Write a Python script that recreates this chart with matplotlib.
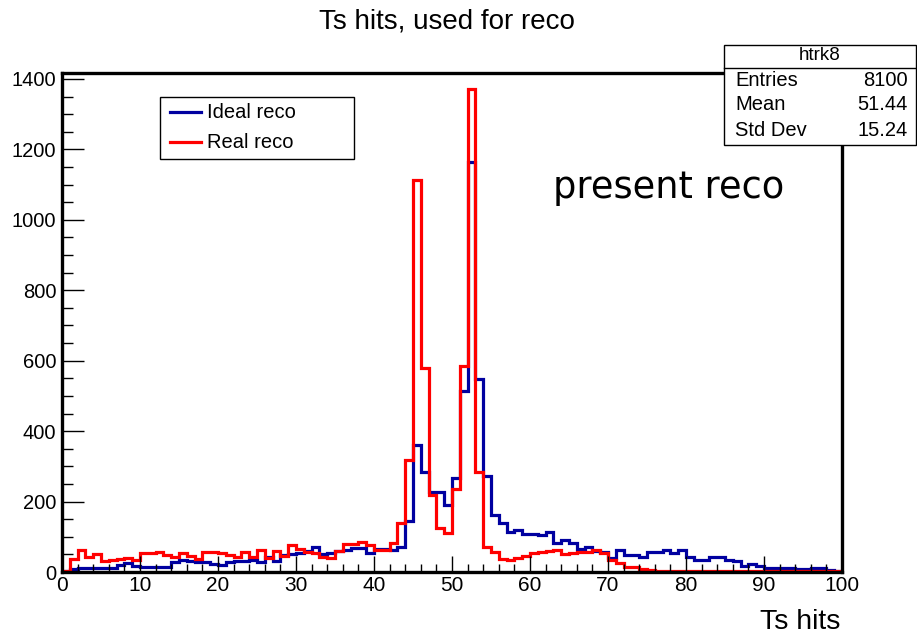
import numpy as np
import matplotlib
matplotlib.use("Agg")
import matplotlib.pyplot as plt
from matplotlib.patches import Rectangle
from matplotlib.lines import Line2D

# ---------------- data ----------------
bin_edges = list(range(0, 101))

ideal_reco = [
    2, 8, 10, 10, 10, 10, 11, 20, 25, 16,
    15, 15, 15, 15, 28, 33, 30, 29, 29, 24,
    20, 28, 32, 30, 33, 27, 42, 32, 48, 50,
    55, 60, 70, 52, 55, 61, 63, 67, 67, 55,
    65, 65, 62, 72, 146, 362, 285, 228, 228, 190,
    268, 515, 1165, 548, 272, 162, 138, 115, 119, 108,
    107, 105, 113, 82, 92, 81, 66, 70, 60, 58,
    40, 62, 48, 47, 42, 58, 56, 62, 54, 62,
    44, 34, 34, 44, 44, 34, 30, 18, 24, 16,
    10, 10, 10, 10, 8, 8, 10, 10, 5, 3,
]

real_reco = [
    4, 36, 62, 44, 51, 31, 34, 36, 39, 34,
    53, 53, 58, 48, 44, 54, 46, 36, 58, 58,
    53, 48, 44, 58, 44, 62, 40, 60, 45, 77,
    66, 58, 55, 44, 39, 60, 79, 79, 86, 77,
    62, 62, 81, 138, 318, 1114, 580, 220, 125, 110,
    235, 585, 1372, 285, 72, 58, 38, 34, 41, 45,
    53, 56, 61, 62, 50, 54, 56, 57, 62, 54,
    35, 25, 14, 13, 8, 5, 4, 4, 3, 3,
    2, 2, 2, 2, 2, 2, 2, 2, 2, 2,
    2, 2, 2, 2, 2, 2, 2, 2, 2, 2,
]

x_ticks = list(range(0, 101, 10))
y_ticks = list(range(0, 1401, 200))

series_labels = ["Ideal reco", "Real reco"]
series_colors = ["#0000a0", "#ff0000"]

stats_title = "htrk8"
stats_rows = [("Entries", "8100"), ("Mean", "51.44"), ("Std Dev", "15.24")]

title_text = "Ts hits, used for reco"
xlabel_text = "Ts hits"
note_text = "present reco"

# ---------------- figure ----------------
W, H = 917, 639
plt.rcParams['font.family'] = ['Liberation Sans', 'DejaVu Sans']
fig = plt.figure(figsize=(W / 100, H / 100), dpi=100)
fig.patch.set_facecolor("white")


def fx(px):
    return px / W


def fy(py):
    return 1 - py / H


ax_left, ax_right, ax_top, ax_bot = 62, 842, 73, 572
ax = fig.add_axes([fx(ax_left), fy(ax_bot), (ax_right - ax_left) / W, (ax_bot - ax_top) / H])

lw = 2.3
ax.stairs(ideal_reco, bin_edges, color=series_colors[0], linewidth=lw, baseline=None)
ax.stairs(real_reco, bin_edges, color=series_colors[1], linewidth=lw, baseline=None)

ax.set_xlim(0, 100)
ax.set_ylim(0, 1417)

ax.set_xticks(x_ticks)
ax.set_xticks(np.arange(0, 101, 2), minor=True)
ax.set_yticks(y_ticks)
ax.set_yticks(np.arange(0, 1417, 50), minor=True)

ax.tick_params(axis='x', which='major', direction='in', length=11.5, width=1.0, labelsize=15, pad=3)
ax.tick_params(axis='x', which='minor', direction='in', length=5.8, width=1.0)
ax.tick_params(axis='y', which='major', direction='in', length=16, width=1.0, labelsize=14.5, pad=4)
ax.tick_params(axis='y', which='minor', direction='in', length=8, width=1.0)

for s in ax.spines.values():
    s.set_linewidth(2.4)
    s.set_color("black")

# title & axis label
fig.text(fx(446.5), fy(21), title_text, ha='center', va='center', fontsize=20)
fig.text(fx(840), fy(622), xlabel_text, ha='right', va='center', fontsize=20.5)

# note
fig.text(fx(553), fy(187), note_text, ha='left', va='center', fontsize=26.5,
         family=['DejaVu Sans'])

# legend box
lg_x0, lg_y0, lg_x1, lg_y1 = 160, 97, 354, 159
fig.add_artist(Rectangle((fx(lg_x0), fy(lg_y1)), fx(lg_x1) - fx(lg_x0), fy(lg_y0) - fy(lg_y1),
                         transform=fig.transFigure, facecolor='white', edgecolor='black',
                         linewidth=1.0, zorder=5))
for i, (lab, col) in enumerate(zip(series_labels, series_colors)):
    yy = 112 + 30 * i
    fig.add_artist(Line2D([fx(170), fx(201)], [fy(yy), fy(yy)], transform=fig.transFigure,
                          color=col, linewidth=lw, zorder=6))
    fig.text(fx(207), fy(yy), lab, ha='left', va='center', fontsize=14.5, zorder=6)

# stats box
sb_x0, sb_y0, sb_x1, sb_y1 = 724, 45, 916, 145
fig.add_artist(Rectangle((fx(sb_x0), fy(sb_y1)), fx(sb_x1) - fx(sb_x0), fy(sb_y0) - fy(sb_y1),
                         transform=fig.transFigure, facecolor='white', edgecolor='black',
                         linewidth=1.0, zorder=5))
fig.add_artist(Line2D([fx(sb_x0), fx(sb_x1)], [fy(68), fy(68)], transform=fig.transFigure,
                      color='black', linewidth=1.0, zorder=6))
fig.text(fx((sb_x0 + sb_x1) / 2), fy(56), stats_title, ha='center', va='center', fontsize=13.5, zorder=6)
for i, (k, v) in enumerate(stats_rows):
    yy = 80 + 25 * i
    fig.text(fx(735), fy(yy), k, ha='left', va='center', fontsize=14.5, zorder=6)
    fig.text(fx(908), fy(yy), v, ha='right', va='center', fontsize=14.5, zorder=6)

fig.savefig("out.png", dpi=100, facecolor='white')
